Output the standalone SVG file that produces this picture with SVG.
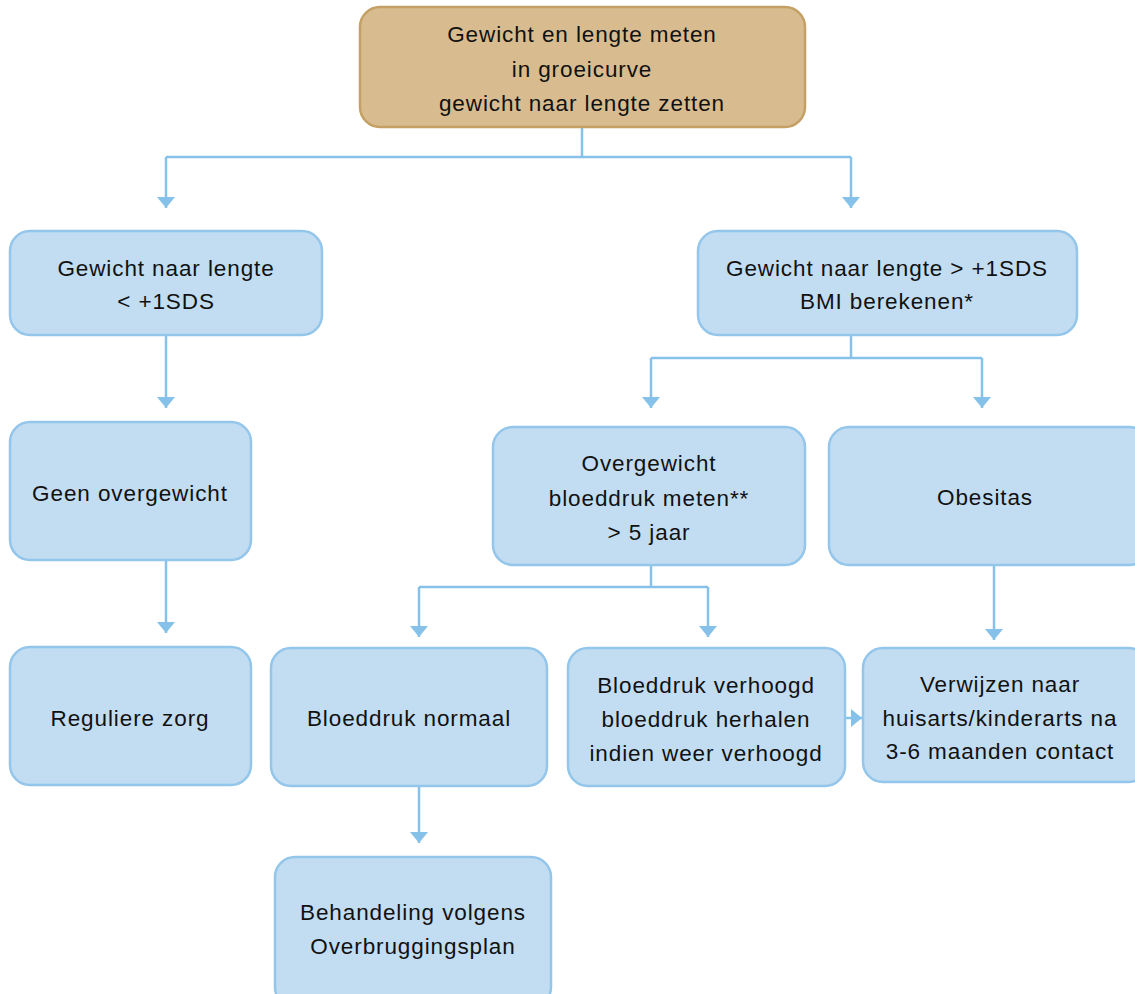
<svg xmlns="http://www.w3.org/2000/svg" width="1135" height="994" viewBox="0 0 1135 994">
<defs>
<marker id="ah" viewBox="0 0 11 18" refX="11" refY="9" markerWidth="11" markerHeight="18" markerUnits="userSpaceOnUse" orient="auto">
<path d="M0,0 L11,9 L0,18 Z" fill="#86c1ea"/>
</marker>
<style>
.b{fill:#c2ddf2;stroke:#93c6ea;stroke-width:2.5}
.t{fill:#d8bc8f;stroke:#c4a064;stroke-width:2.5}
text{font-family:"Liberation Sans",Arial,sans-serif;font-size:22.5px;fill:#111;text-anchor:middle;letter-spacing:0.9px}
.c{fill:none;stroke:#86c1ea;stroke-width:2.5}
</style>
</defs>
<rect width="1135" height="994" fill="#fff"/>
<g id="connectors">
<path class="c" d="M582,127 V157 M166,157 H851"/>
<path class="c" d="M166,157 V208" marker-end="url(#ah)"/>
<path class="c" d="M851,157 V208" marker-end="url(#ah)"/>
<path class="c" d="M166,335 V408" marker-end="url(#ah)"/>
<path class="c" d="M166,560 V633" marker-end="url(#ah)"/>
<path class="c" d="M851,335 V358 M651,358 H982"/>
<path class="c" d="M651,358 V408" marker-end="url(#ah)"/>
<path class="c" d="M982,358 V408" marker-end="url(#ah)"/>
<path class="c" d="M651,565 V587 M419,587 H708"/>
<path class="c" d="M419,587 V637" marker-end="url(#ah)"/>
<path class="c" d="M708,587 V637" marker-end="url(#ah)"/>
<path class="c" d="M994,565 V640" marker-end="url(#ah)"/>
<path class="c" d="M845,718 H862" marker-end="url(#ah)"/>
<path class="c" d="M419,786 V843" marker-end="url(#ah)"/>
</g>
<g id="n-top">
<rect class="t" x="360" y="7" width="445" height="120" rx="20"/>
<text x="582" y="42">Gewicht en lengte meten</text>
<text x="582" y="77">in groeicurve</text>
<text x="582" y="111">gewicht naar lengte zetten</text>
</g>
<g id="n-lt">
<rect class="b" x="10" y="231" width="312" height="104" rx="20"/>
<text x="166" y="276">Gewicht naar lengte</text>
<text x="166" y="309">&lt; +1SDS</text>
</g>
<g id="n-gt">
<rect class="b" x="698" y="231" width="379" height="104" rx="20"/>
<text x="887" y="276">Gewicht naar lengte &gt; +1SDS</text>
<text x="887" y="309">BMI berekenen*</text>
</g>
<g id="n-geen">
<rect class="b" x="10" y="422" width="241" height="138" rx="20"/>
<text x="130" y="501">Geen overgewicht</text>
</g>
<g id="n-reg">
<rect class="b" x="10" y="647" width="241" height="138" rx="20"/>
<text x="130" y="726">Reguliere zorg</text>
</g>
<g id="n-over">
<rect class="b" x="493" y="427" width="312" height="138" rx="20"/>
<text x="649" y="471">Overgewicht</text>
<text x="649" y="506">bloeddruk meten**</text>
<text x="649" y="540">&gt; 5 jaar</text>
</g>
<g id="n-obes">
<rect class="b" x="829" y="427" width="320" height="138" rx="20"/>
<text x="985" y="505">Obesitas</text>
</g>
<g id="n-normaal">
<rect class="b" x="271" y="648" width="276" height="138" rx="20"/>
<text x="409" y="726">Bloeddruk normaal</text>
</g>
<g id="n-verhoogd">
<rect class="b" x="568" y="648" width="277" height="138" rx="20"/>
<text x="706" y="693">Bloeddruk verhoogd</text>
<text x="706" y="727">bloeddruk herhalen</text>
<text x="706" y="761">indien weer verhoogd</text>
</g>
<g id="n-verwijzen">
<rect class="b" x="863" y="648" width="285" height="134" rx="20"/>
<text x="1000" y="692">Verwijzen naar</text>
<text x="1000" y="726">huisarts/kinderarts na</text>
<text x="1000" y="759">3-6 maanden contact</text>
</g>
<g id="n-behandeling">
<rect class="b" x="275" y="857" width="276" height="150" rx="20"/>
<text x="413" y="920">Behandeling volgens</text>
<text x="413" y="954">Overbruggingsplan</text>
</g>
</svg>
